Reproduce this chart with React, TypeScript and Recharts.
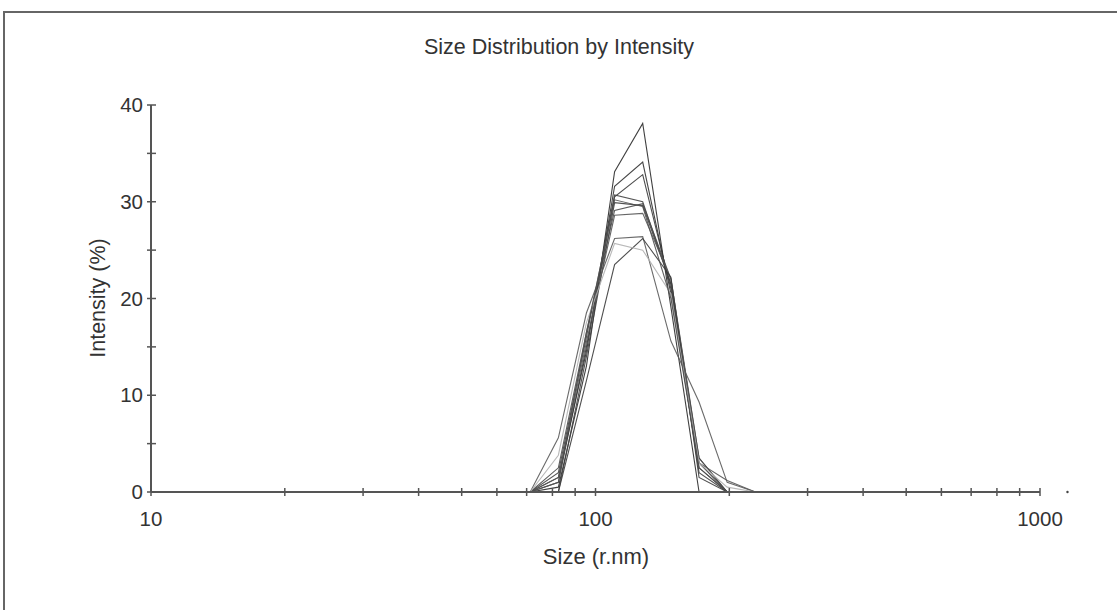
import { Line, LineChart, ReferenceDot, XAxis, YAxis } from "recharts";

// size bins (r.nm), log-spaced; first/last points pin the flat baseline to the axis ends
const sizes = [10, 61.6, 71.3, 82.5, 95.4, 110.4, 127.7, 147.8, 171.0, 197.8, 228.9, 264.8, 1000];

// intensity (%) per run, one value per size bin
const run1 = [0, 0, 0, 0.5, 13, 33.1, 38.1, 19.1, 0, 0, 0, 0, 0];
const run2 = [0, 0, 0, 1.5, 14.5, 31.6, 34.1, 20.5, 2.5, 0, 0, 0, 0];
const run3 = [0, 0, 0, 1, 15, 30.5, 32.8, 21, 3, 0, 0, 0, 0];
const run4 = [0, 0, 0, 2, 16, 30.7, 30.0, 21.5, 3.5, 0, 0, 0, 0];
const run5 = [0, 0, 0, 0, 14, 29.9, 29.6, 21.5, 2, 0, 0, 0, 0];
const run6 = [0, 0, 0, 2.5, 16.5, 29.1, 29.8, 22, 3.5, 0, 0, 0, 0];
const run7 = [0, 0, 0, 1.5, 15.5, 28.6, 28.8, 22, 3, 1.2, 0, 0, 0];
const run8 = [0, 0, 0, 5.6, 18.5, 26.2, 26.4, 15.6, 9.3, 1, 0, 0, 0];
const run9 = [0, 0, 0, 0, 11.5, 23.5, 26.2, 22.2, 1.5, 0, 0, 0, 0];
const run10 = [0, 0, 0, 3.8, 17.5, 25.7, 25.0, 20.5, 3, 0.5, 0, 0, 0];
const run11 = [0, 0, 0, 1, 16.5, 30.2, 29.5, 20, 2.5, 0, 0, 0, 0];

const runs = [run1, run2, run3, run4, run5, run6, run7, run8, run9, run10, run11];
const runColors = [
  "#2b2b2b", "#333", "#3a3a3a", "#444", "#404040", "#4a4a4a",
  "#555", "#5a5a5a", "#3c3c3c", "#b0b0b0", "#505050",
];

const xTicks = [10, 20, 30, 40, 50, 60, 70, 80, 90, 100, 200, 300, 400, 500, 600, 700, 800, 900, 1000];
const xLabels = [10, 100, 1000];
const yTicks = [0, 5, 10, 15, 20, 25, 30, 35, 40];
const yLabels = [0, 10, 20, 30, 40];

const data = sizes.map((size, i) => {
  const row: Record<string, number> = { size };
  runs.forEach((r, k) => {
    row[`r${k}`] = r[i];
  });
  return row;
});

const AXIS = "#555";
const TEXT = "#333";
const FONT = "'Liberation Sans', Arial, sans-serif";
const TICK_SIZE = 4;
const TICK_MARGIN = 4;

function XTick(props: any) {
  const { x, y, payload } = props;
  const axisY = y - TICK_SIZE - TICK_MARGIN;
  return (
    <g>
      <line x1={x} x2={x} y1={axisY - 4} y2={axisY + 4} stroke={AXIS} strokeWidth={1.5} />
      {xLabels.includes(payload.value) && (
        <text x={x} y={axisY + 34} textAnchor="middle" fill={TEXT} fontSize={20.5} fontFamily={FONT}>
          {payload.value}
        </text>
      )}
    </g>
  );
}

function YTick(props: any) {
  const { x, y, payload } = props;
  const axisX = x + TICK_SIZE + TICK_MARGIN;
  return (
    <g>
      <line x1={axisX - 4} x2={axisX + 5} y1={y} y2={y} stroke={AXIS} strokeWidth={1.5} />
      {yLabels.includes(payload.value) && (
        <text x={axisX - 8} y={y + 7} textAnchor="end" fill={TEXT} fontSize={20.5} fontFamily={FONT}>
          {payload.value}
        </text>
      )}
    </g>
  );
}

export default function App() {
  return (
    <div style={{ position: "absolute", left: 0, top: 0, width: 1117, height: 610, background: "#fff", overflow: "hidden" }}>
      <div
        style={{
          position: "absolute",
          left: 3,
          top: 11,
          width: 1200,
          height: 700,
          borderTop: "2px solid #666",
          borderLeft: "2px solid #666",
        }}
      />
      <div
        style={{
          position: "absolute",
          left: 559,
          top: 47,
          transform: "translate(-50%, -50%)",
          fontFamily: FONT,
          fontSize: 21.5,
          color: TEXT,
          whiteSpace: "nowrap",
        }}
      >
        Size Distribution by Intensity
      </div>
      <div
        style={{
          position: "absolute",
          left: 98,
          top: 298,
          transform: "translate(-50%, -50%) rotate(-90deg)",
          fontFamily: FONT,
          fontSize: 21.5,
          color: TEXT,
          whiteSpace: "nowrap",
        }}
      >
        Intensity (%)
      </div>
      <div
        style={{
          position: "absolute",
          left: 596,
          top: 557,
          transform: "translate(-50%, -50%)",
          fontFamily: FONT,
          fontSize: 22,
          color: TEXT,
          whiteSpace: "nowrap",
        }}
      >
        Size (r.nm)
      </div>
      <div style={{ position: "absolute", left: 0, top: 0 }}>
        <LineChart width={1117} height={610} data={data} margin={{ top: 105, right: 77, bottom: 88, left: 0 }}>
          <XAxis
            dataKey="size"
            type="number"
            scale="log"
            domain={[10, 1000]}
            allowDataOverflow
            ticks={xTicks}
            interval={0}
            height={30}
            tickSize={TICK_SIZE}
            tickMargin={TICK_MARGIN}
            tickLine={false}
            tick={<XTick />}
            axisLine={{ stroke: AXIS, strokeWidth: 2 }}
          />
          <YAxis
            type="number"
            domain={[0, 40]}
            ticks={yTicks}
            interval={0}
            width={151}
            tickSize={TICK_SIZE}
            tickMargin={TICK_MARGIN}
            tickLine={false}
            tick={<YTick />}
            axisLine={{ stroke: AXIS, strokeWidth: 2 }}
          />
          {runs.map((_, k) => (
            <Line
              key={k}
              type="linear"
              dataKey={`r${k}`}
              stroke={runColors[k]}
              strokeWidth={1.1}
              strokeOpacity={0.9}
              dot={false}
              activeDot={false}
              isAnimationActive={false}
            />
          ))}
          <ReferenceDot x={1153} y={0} r={1.2} fill="#444" stroke="none" ifOverflow="visible" />
        </LineChart>
      </div>
    </div>
  );
}
